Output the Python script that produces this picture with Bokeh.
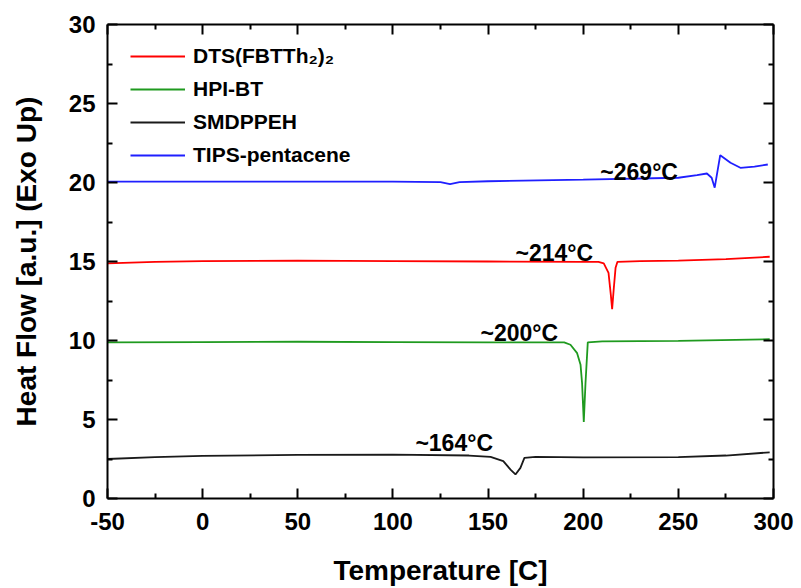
from bokeh.plotting import figure
from bokeh.models import Range1d, LinearAxis, FixedTicker, Legend, LegendItem
from bokeh.core.properties import value
from bokeh.embed import file_html
from bokeh.resources import INLINE

# ---- data ----
x_ticks = [-50, 0, 50, 100, 150, 200, 250, 300]
x_tick_labels = ["-50", "0", "50", "100", "150", "200", "250", "300"]
x_minor = [-25, 25, 75, 125, 175, 225, 275]
y_ticks = [0, 5, 10, 15, 20, 25, 30]
y_tick_labels = ["0", "5", "10", "15", "20", "25", "30"]
y_minor = [2.5, 7.5, 12.5, 17.5, 22.5, 27.5]

series_names = ["DTS(FBTTh\u2082)\u2082", "HPI-BT", "SMDPPEH", "TIPS-pentacene"]
series_colors = ["#ff0000", "#1f9a1f", "#1a1a1a", "#1f1fff"]

t_dts = [-50, -25, 0, 50, 100, 150, 200, 208, 210.8, 213.3, 214.5, 215.2, 216, 217, 218, 230, 250, 275, 298]
v_dts = [14.88, 14.98, 15.03, 15.05, 15.03, 15.0, 14.98, 14.97, 14.88, 14.28, 12.9, 11.98, 13.2, 14.6, 14.98, 15.02, 15.05, 15.15, 15.3]

t_hpi = [-50, 0, 50, 100, 150, 190, 193.3, 196.8, 198.6, 199.4, 200.3, 201.2, 202.4, 210, 250, 298]
v_hpi = [9.88, 9.9, 9.92, 9.9, 9.88, 9.88, 9.73, 9.2, 8.46, 7.3, 4.85, 7.3, 9.88, 9.95, 9.98, 10.08]

t_sm = [-50, -25, 0, 50, 100, 140, 151.3, 158, 161.8, 164.4, 167, 169.1, 175, 200, 250, 275, 298]
v_sm = [2.5, 2.62, 2.7, 2.76, 2.78, 2.72, 2.63, 2.36, 1.83, 1.52, 1.94, 2.57, 2.63, 2.6, 2.62, 2.72, 2.92]

t_tips = [-50, 0, 50, 100, 125, 130, 135, 150, 200, 250, 259.8, 265, 267.5, 269.1, 272, 277.4, 282.6, 290, 297]
v_tips = [20.05, 20.05, 20.05, 20.05, 20.03, 19.9, 20.02, 20.08, 20.18, 20.3, 20.47, 20.57, 20.3, 19.67, 21.73, 21.25, 20.93, 21.0, 21.14]

ann_text = ["~269\u00b0C", "~214\u00b0C", "~200\u00b0C", "~164\u00b0C"]
ann_x = [209, 164.4, 146, 111.8]
ann_y = [20.66, 15.54, 10.49, 3.52]

FONT = "Liberation Sans"

p = figure(width=801, height=588, output_backend="svg", toolbar_location=None,
           x_range=Range1d(-50, 300), y_range=Range1d(0, 30),
           min_border_left=107, min_border_right=28, min_border_top=24, min_border_bottom=89)
p.grid.visible = False
p.outline_line_color = None
p.background_fill_color = "white"
p.border_fill_color = "white"

def style_axis(ax, show_labels=True):
    ax.axis_line_width = 2
    ax.axis_line_color = "black"
    ax.major_tick_in = 10
    ax.major_tick_out = 0
    ax.minor_tick_in = 5
    ax.minor_tick_out = 0
    ax.major_tick_line_width = 2
    ax.minor_tick_line_width = 2
    ax.major_tick_line_color = "black"
    ax.minor_tick_line_color = "black"
    if show_labels:
        ax.major_label_text_font = FONT
        ax.major_label_text_font_style = "bold"
        ax.major_label_text_font_size = "24px"
        ax.major_label_text_color = "black"
        ax.axis_label_text_font = FONT
        ax.axis_label_text_font_style = "bold"
        ax.axis_label_text_font_size = "28px"
        ax.axis_label_text_color = "black"
    else:
        ax.major_label_text_font_size = "1px"
        ax.major_label_text_color = None
        ax.major_label_standoff = 0

xt = FixedTicker(ticks=x_ticks, minor_ticks=x_minor)
yt = FixedTicker(ticks=y_ticks, minor_ticks=y_minor)

p.xaxis.ticker = xt
p.yaxis.ticker = yt
style_axis(p.xaxis[0])
style_axis(p.yaxis[0])
p.xaxis.major_label_overrides = dict(zip(x_ticks, x_tick_labels))
p.yaxis.major_label_overrides = dict(zip(y_ticks, y_tick_labels))
p.xaxis.axis_label = "Temperature [C]"
p.yaxis.axis_label = "Heat Flow [a.u.] (Exo Up)"
p.xaxis.major_label_standoff = 14
p.xaxis.axis_label_standoff = 22
p.yaxis.major_label_standoff = 12
p.yaxis.axis_label_standoff = 24

top = LinearAxis(ticker=xt)
style_axis(top, False)
right = LinearAxis(ticker=yt)
style_axis(right, False)
p.add_layout(top, "above")
p.add_layout(right, "right")

data = [(t_dts, v_dts), (t_hpi, v_hpi), (t_sm, v_sm), (t_tips, v_tips)]
renderers = []
for (t, v), c in zip(data, series_colors):
    r = p.line(t, v, line_color=c, line_width=1.8)
    renderers.append(r)

p.text(x=ann_x, y=ann_y, text=ann_text, text_font=value(FONT), text_font_style="bold",
       text_font_size="23px", text_color="black", text_baseline="alphabetic", text_align="left")

legend = Legend(items=[LegendItem(label=n, renderers=[r]) for n, r in zip(series_names, renderers)],
                location=(23, 327), padding=0, margin=0, spacing=0,
                label_height=33, glyph_height=20, glyph_width=55, label_standoff=8,
                border_line_color=None, background_fill_alpha=0,
                label_text_font=FONT, label_text_font_style="bold", label_text_font_size="21px",
                label_text_color="black")
p.add_layout(legend)

open("out.html", "w").write(file_html(p, INLINE))
